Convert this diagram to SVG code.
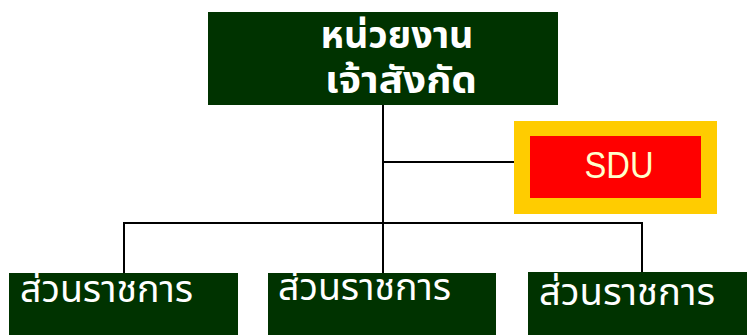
<svg xmlns="http://www.w3.org/2000/svg" width="747" height="335" viewBox="0 0 747 335">
<style>
.box{fill:#003300}
.conn{stroke:#000;stroke-width:2;fill:none}
.th{font-family:"Noto Sans Thai","Tahoma","Loma","Garuda","Noto Sans","DejaVu Sans",sans-serif;fill:#fff}
.top{font-size:38px;font-weight:bold;text-anchor:middle}
.sub{font-size:38px}
.sdu{font-family:"Liberation Sans",Arial,sans-serif;font-size:37px;fill:#FFFFCC;text-anchor:middle}
</style>
<rect width="747" height="335" fill="#fff"/>
<g id="connectors">
<line class="conn" x1="383" y1="104" x2="383" y2="273"/>
<line class="conn" x1="383" y1="162" x2="514" y2="162"/>
<polyline class="conn" points="124,273 124,223 642,223 642,272"/>
</g>
<g id="node-top">
<rect class="box" x="208" y="12" width="350" height="93"/>
<text class="th top" x="397" y="48" textLength="153" lengthAdjust="spacingAndGlyphs">หน่วยงาน</text>
<text class="th top" x="401" y="93" textLength="152" lengthAdjust="spacingAndGlyphs">เจ้าสังกัด</text>
</g>
<g id="node-sdu">
<rect x="514" y="121" width="203" height="93" fill="#FFCC00"/>
<rect x="530" y="136" width="171" height="62" fill="#FF0000"/>
<text class="sdu" x="619" y="178" textLength="69" lengthAdjust="spacingAndGlyphs">SDU</text>
</g>
<g id="node-unit1">
<rect class="box" x="9" y="273" width="229" height="62"/>
<text class="th sub" x="20" y="302" textLength="173" lengthAdjust="spacingAndGlyphs">ส่วนราชการ</text>
</g>
<g id="node-unit2">
<rect class="box" x="268" y="273" width="228" height="62"/>
<text class="th sub" x="278" y="300" textLength="173" lengthAdjust="spacingAndGlyphs">ส่วนราชการ</text>
</g>
<g id="node-unit3">
<rect class="box" x="528" y="272" width="219" height="63"/>
<text class="th sub" x="539" y="305" textLength="176" lengthAdjust="spacingAndGlyphs">ส่วนราชการ</text>
</g>
</svg>
